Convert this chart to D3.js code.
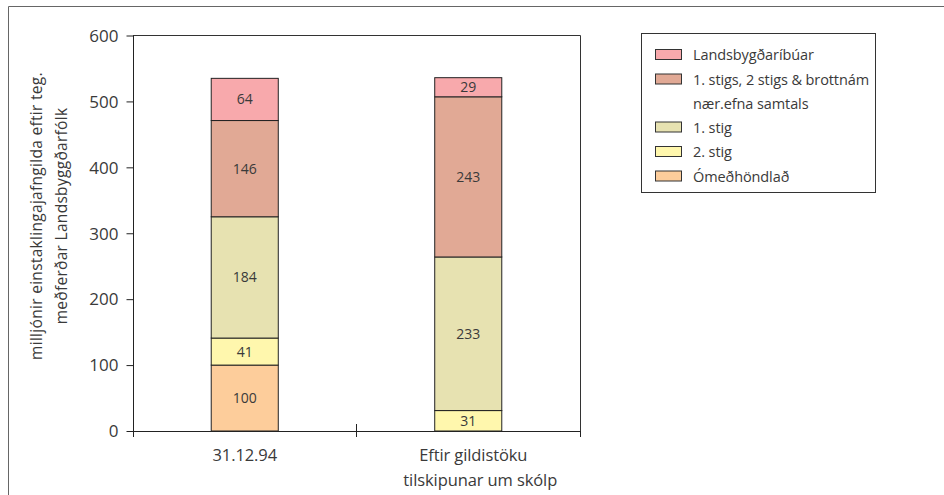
<!DOCTYPE html>
<html>
<head>
<meta charset="utf-8">
<script src="https://cdn.jsdelivr.net/npm/d3@7"></script>
<style>
  html, body { margin: 0; padding: 0; background: #fff; }
  svg { display: block; font-family: "Open Sans", Lato, sans-serif; }
  text { fill: #3a3a3a; }
</style>
</head>
<body>
<svg id="chart" width="944" height="495"></svg>
<script>
// Categories along the x axis (each may span several lines)
const categories = ["31.12.94", "Eftir gildistöku"];
const categoryLines = [["31.12.94"], ["Eftir gildistöku", "tilskipunar um skólp"]];

// Stacked series, bottom to top
const seriesNames = ["Ómeðhöndlað", "2. stig", "1. stig", "1. stigs, 2 stigs & brottnám nær.efna samtals", "Landsbygðaríbúar"];
const omedhondlad = [100, 0];
const stig2 = [41, 31];
const stig1 = [184, 233];
const brottnam = [146, 243];
const landsbygd = [64, 29];

const seriesColors = ["#fdcd9b", "#fff7ad", "#e7e2b1", "#e1a995", "#f8a9ac"];

const yTicks = [0, 100, 200, 300, 400, 500, 600];
const yTitle = ["milljónir einstaklingajafngilda eftir teg.", "meðferðar Landsbyggðarfólk"];

// Legend entries, top to bottom (labels may wrap)
const legendLines = [
  ["Landsbygðaríbúar"],
  ["1. stigs, 2 stigs & brottnám", "nær.efna samtals"],
  ["1. stig"],
  ["2. stig"],
  ["Ómeðhöndlað"]
];
const legendColorIdx = [4, 3, 2, 1, 0];

const svg = d3.select("#chart");
const M = { left: 133, right: 580, top: 35.5, bottom: 431 };

// Outer frame (left and top edges)
svg.append("path")
  .attr("d", "M8.5,495 L8.5,6.5 L944,6.5")
  .attr("fill", "none").attr("stroke", "#666").attr("stroke-width", 1);

const x = d3.scaleBand().domain(categories).range([M.left, M.right]).paddingInner(0).paddingOuter(0);
const y = d3.scaleLinear().domain([0, 600]).range([M.bottom, M.top]);

const rows = categories.map((c, i) => ({
  cat: c,
  "Ómeðhöndlað": omedhondlad[i],
  "2. stig": stig2[i],
  "1. stig": stig1[i],
  "1. stigs, 2 stigs & brottnám nær.efna samtals": brottnam[i],
  "Landsbygðaríbúar": landsbygd[i]
}));
const stacked = d3.stack().keys(seriesNames)(rows);

// Plot frame: top and right edges
svg.append("path")
  .attr("d", `M${M.left},${M.top} L${M.right + 0.5},${M.top} L${M.right + 0.5},${M.bottom}`)
  .attr("fill", "none").attr("stroke", "#333").attr("stroke-width", 1);

// Bars
const barW = x.bandwidth() * 0.3;
stacked.forEach((s, si) => {
  s.forEach((d, i) => {
    const v = d[1] - d[0];
    if (v <= 0) return;
    const cx = x(categories[i]) + x.bandwidth() / 2;
    svg.append("rect")
      .attr("x", cx - barW / 2)
      .attr("y", y(d[1]))
      .attr("width", barW)
      .attr("height", y(d[0]) - y(d[1]))
      .attr("fill", seriesColors[si])
      .attr("stroke", "#222").attr("stroke-width", 1);
    svg.append("text")
      .attr("x", cx)
      .attr("y", (y(d[0]) + y(d[1])) / 2)
      .attr("dy", "0.36em")
      .attr("text-anchor", "middle")
      .attr("font-size", 14)
      .text(v);
  });
});

// Y axis
const yAxis = d3.axisLeft(y).tickValues(yTicks).tickSize(7).tickPadding(8);
const gy = svg.append("g").attr("transform", `translate(${M.left + 0.5},0)`).call(yAxis);
gy.select(".domain").attr("stroke", "#222").attr("d", `M0,${M.top}V${M.bottom + 6}`);
gy.selectAll(".tick line").attr("stroke", "#222");
gy.selectAll(".tick text").attr("font-size", 17).attr("fill", "#3a3a3a")
  .style("font-family", "'Open Sans', sans-serif").attr("dy", "0.34em");

// X axis line and category boundary ticks
svg.append("line")
  .attr("x1", M.left - 6).attr("x2", M.right + 0.5)
  .attr("y1", M.bottom + 0.5).attr("y2", M.bottom + 0.5)
  .attr("stroke", "#222");
const bounds = [x(categories[1]), M.right + 0.5];
svg.selectAll(".xb").data(bounds).enter().append("line")
  .attr("x1", d => d).attr("x2", d => d)
  .attr("y1", (d, i) => i === 0 ? M.bottom - 7 : M.bottom)
  .attr("y2", M.bottom + 6)
  .attr("stroke", "#222");

// Category labels
categoryLines.forEach((lines, i) => {
  const cx = x(categories[i]) + x.bandwidth() / 2;
  lines.forEach((ln, j) => {
    svg.append("text")
      .attr("x", cx + (lines.length > 1 ? (j === 0 ? 5 : 12) : 0))
      .attr("y", 461 + j * 25)
      .attr("text-anchor", "middle")
      .attr("font-size", 16.5)
      .attr("letter-spacing", -0.1)
      .text(ln);
  });
});

// Y axis title (two rotated lines)
yTitle.forEach((t, j) => {
  svg.append("text")
    .attr("transform", `translate(${42 + j * 25},216) rotate(-90)`)
    .attr("text-anchor", "middle")
    .attr("font-size", 15.5)
    .attr("letter-spacing", 0.3)
    .text(t);
});

// Legend
svg.append("rect")
  .attr("x", 641.5).attr("y", 33.5).attr("width", 234).attr("height", 159)
  .attr("fill", "#fff").attr("stroke", "#333");
let ly = 55;
legendLines.forEach((lines, k) => {
  svg.append("rect")
    .attr("x", 655.5).attr("y", ly - 5.5).attr("width", 26).attr("height", 10)
    .attr("fill", seriesColors[legendColorIdx[k]]).attr("stroke", "#333");
  lines.forEach((ln, j) => {
    svg.append("text")
      .attr("x", 693).attr("y", ly + j * 24.5).attr("dy", "0.36em")
      .attr("font-size", 14.5)
      .attr("letter-spacing", -0.1)
      .text(ln);
  });
  ly += lines.length * 24.5 - (lines.length > 1 ? 1 : 0);
});
</script>
</body>
</html>
